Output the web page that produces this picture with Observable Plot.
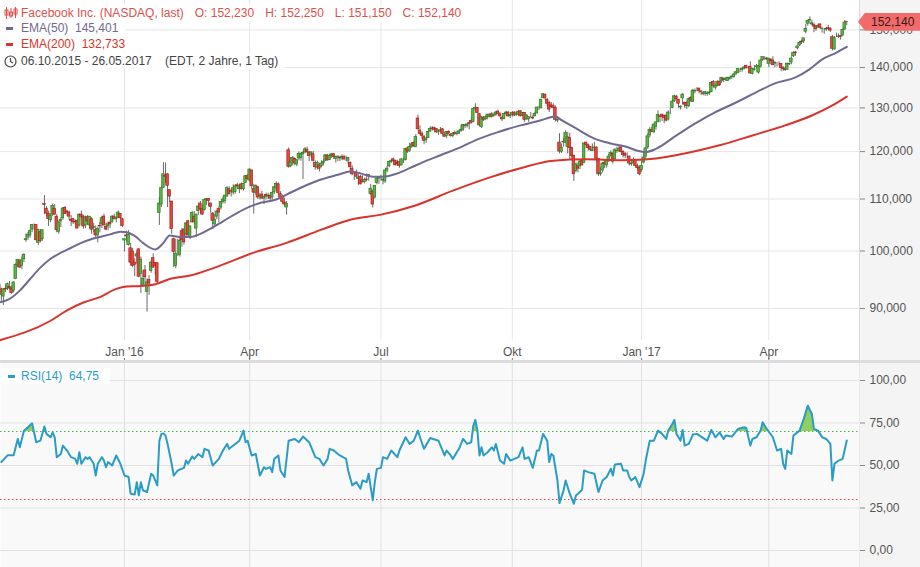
<!DOCTYPE html>
<html><head><meta charset="utf-8">
<script src="https://cdn.jsdelivr.net/npm/d3@7"></script>
<script src="https://cdn.jsdelivr.net/npm/@observablehq/plot@0.6"></script>
<style>
html,body{margin:0;padding:0;background:#fff;}
#wrap{position:relative;width:920px;height:567px;overflow:hidden;font-family:Arial,"Liberation Sans",sans-serif;}
#axisbg{position:absolute;left:859px;top:0;width:61px;height:567px;background:#f4f4f4;border-left:1px solid #d9d9d9;box-sizing:border-box;}
#price,#rsi{position:absolute;left:0;}
#price{top:0;}
#rsi{top:340px;}
#sep{position:absolute;left:0;top:360px;width:920px;height:3px;background:#dcdcdc;}
.row{position:absolute;left:0;height:16px;line-height:16px;font-size:12px;background:rgba(255,255,255,0.9);white-space:nowrap;padding:0 4px 0 4px;}
.row .t{position:relative;left:17px;}
.dash{position:absolute;left:6px;top:7px;width:7px;height:3px;}
.gap{display:inline-block;width:11px;}
#lastbox{position:absolute;left:858px;width:62px;height:18px;line-height:18px;background:#f26b6b;color:#3a1a1a;font-size:12px;clip-path:polygon(0 50%,7px 0,100% 0,100% 100%,7px 100%);box-sizing:border-box;padding-left:13px;}
</style></head>
<body>
<div id="wrap">
  <div id="axisbg"></div>
  <div id="charts"></div>
  <div id="sep"></div>
  <div id="legend"></div>
  <div id="lastbox"></div>
</div>
<script>
// ---------- DATA: daily candles [open, high, low, close] by month ----------
const oct15 = [[94.0,94.5,92.1,92.5],[93.2,93.4,91.2,92.3],[92.0,93.2,90.5,93.2],[93.3,93.9,92.7,93.2],[93.3,94.3,93.0,94.1],[93.6,94.6,93.1,93.4],[93.3,93.8,92.4,92.6],[93.0,94.5,92.6,94.4],[95.0,97.7,94.9,97.5],[97.4,98.5,97.0,98.4],[98.1,98.5,96.9,97.0],[97.3,98.9,96.7,98.3],[98.5,99.5,97.9,99.3],[102.0,103.2,101.6,102.2],[102.5,103.5,102.0,103.0],[102.9,104.0,102.4,103.7],[104.0,105.0,103.4,104.9],[104.9,105.1,103.9,104.9],[104.9,104.9,101.8,102.0]];
const nov15 = [[101.5,104.1,101.0,103.9],[103.5,104.0,101.5,101.8],[102.2,103.9,101.8,103.9],[109.0,110.7,106.9,108.8],[108.0,108.5,106.5,107.1],[107.0,107.6,104.6,106.0],[105.8,107.0,105.3,106.6],[106.9,109.0,106.5,108.6],[108.0,108.9,106.8,106.9],[106.5,106.9,103.4,103.9],[103.6,105.6,103.1,105.4],[105.6,106.3,104.4,105.9],[106.2,108.3,105.8,108.1],[108.2,108.5,106.9,107.0],[107.5,107.8,106.6,107.3],[107.3,107.6,105.8,106.5],[105.9,106.7,104.6,105.7],[106.0,106.2,105.0,105.4],[105.5,105.9,104.9,105.4],[105.7,105.9,104.2,104.2]];
const dec15 = [[104.8,107.0,104.5,106.9],[106.9,107.6,106.1,106.5],[106.5,106.8,104.1,104.6],[104.8,106.6,104.2,106.2],[106.4,106.7,104.8,105.6],[104.8,106.5,104.2,106.5],[106.0,106.3,103.1,104.0],[104.3,105.2,103.4,104.5],[103.9,104.7,102.4,102.9],[102.9,104.4,101.5,104.1],[104.7,105.4,103.4,104.6],[105.0,106.6,104.2,106.2],[106.5,107.0,104.7,104.8],[104.5,105.3,103.8,104.0],[104.6,105.5,103.8,105.0],[105.3,105.7,104.2,105.0],[105.5,106.7,105.2,106.5],[106.5,107.0,105.9,106.0],[106.0,106.5,105.3,106.2],[106.3,107.6,106.2,107.3],[107.0,107.1,106.0,106.2],[106.0,106.2,104.4,104.7]];
const jan16 = [[101.95,102.2,99.8,102.2],[102.9,103.7,101.7,102.7],[101.1,103.8,100.9,103.0],[100.5,101.4,97.3,97.9],[99.9,100.5,97.0,97.3],[97.9,98.6,95.4,97.5],[99.0,100.0,97.6,99.4],[100.3,100.5,95.2,95.4],[95.9,98.9,92.5,98.4],[94.0,96.4,93.5,95.0],[96.5,97.4,93.9,95.3],[92.8,95.0,89.4,94.4],[94.8,95.6,92.2,94.2],[96.4,98.1,96.0,97.9],[98.7,99.5,96.9,97.0],[97.8,97.9,95.6,97.3],[97.8,97.8,94.2,94.5],[107.2,110.3,104.8,109.1],[108.9,112.4,108.3,112.2]];
const feb16 = [[112.3,117.6,112.2,115.1],[114.8,117.5,113.2,114.6],[115.1,115.2,108.3,112.7],[111.8,111.9,109.3,110.5],[109.5,109.5,103.1,104.1],[102.2,102.4,97.0,99.8],[97.3,102.2,96.8,99.5],[101.0,102.2,99.0,101.0],[99.3,102.5,98.9,101.9],[103.7,104.2,100.7,102.0],[104.0,104.2,101.1,101.6],[103.1,105.3,102.7,105.2],[105.6,105.8,102.8,102.9],[102.5,104.7,102.1,104.6],[105.4,107.5,105.2,107.2],[106.5,107.5,105.0,105.5],[104.2,107.0,102.5,106.9],[107.6,108.8,106.8,108.5],[109.1,109.5,107.0,107.9],[108.0,108.8,106.8,106.9]];
const mar16 = [[107.8,109.9,107.6,109.8],[109.8,110.0,108.7,110.0],[110.0,110.1,108.5,109.6],[109.1,109.2,107.2,108.4],[107.1,107.3,104.0,105.7],[105.0,106.9,104.5,105.9],[106.5,107.7,105.9,107.5],[108.0,108.4,105.3,107.3],[108.3,109.5,107.8,109.4],[109.4,110.4,109.0,109.9],[109.6,110.7,109.0,110.7],[110.5,112.5,110.4,112.2],[112.0,112.5,110.8,111.0],[111.6,111.9,110.4,111.5],[111.3,112.9,110.8,112.2],[111.4,112.9,111.0,112.6],[112.8,113.2,112.2,112.6],[112.0,113.0,111.1,112.6],[113.0,113.3,111.8,112.0],[112.0,113.2,111.6,113.1],[113.3,114.8,113.2,114.7],[114.7,115.0,113.9,114.1]];
const apr16 = [[113.8,116.3,113.5,116.1],[115.9,116.0,112.0,112.6],[112.0,113.0,107.0,111.3],[111.3,112.9,110.8,112.7],[112.4,112.6,109.9,110.3],[110.5,111.2,109.8,110.6],[110.9,111.6,109.9,110.1],[110.1,110.6,108.9,110.4],[110.8,111.2,109.8,110.5],[110.5,111.2,109.9,110.7],[110.6,111.0,109.6,110.1],[110.3,111.5,109.8,111.2],[111.4,112.6,110.9,112.4],[112.2,113.5,111.6,113.1],[113.0,113.3,111.0,111.2],[111.0,111.5,109.9,110.2],[110.3,110.8,108.9,109.4],[109.3,110.2,108.4,108.9],[108.3,109.5,106.8,109.0],[120.3,120.8,116.4,116.7],[116.8,118.7,116.5,117.6]];
const may16 = [[117.8,118.9,116.9,118.6],[118.4,118.6,116.9,117.4],[117.2,118.3,116.7,118.1],[118.5,119.9,118.0,119.5],[118.6,119.7,117.9,119.5],[119.4,120.0,114.0,119.7],[119.8,120.9,119.5,120.5],[120.4,121.0,119.6,119.9],[119.8,120.0,117.8,119.0],[119.2,120.0,118.6,119.8],[119.4,120.0,117.7,118.0],[117.5,118.0,116.0,116.6],[116.5,117.9,116.0,117.5],[117.0,117.4,115.6,116.3],[116.8,118.0,116.5,117.4],[117.5,118.2,116.9,117.7],[118.0,119.3,117.8,119.2],[119.1,119.4,117.9,118.1],[118.2,119.4,118.0,119.0],[119.0,119.6,118.5,119.4],[119.4,119.6,118.3,118.8]];
const jun16 = [[118.4,119.0,117.5,118.8],[118.8,119.0,117.8,118.9],[118.6,119.0,117.8,118.5],[118.5,119.3,118.0,118.8],[118.8,119.2,118.0,118.3],[118.4,119.0,117.8,118.4],[118.0,118.6,117.2,118.6],[117.5,117.8,115.5,116.6],[116.3,116.9,114.8,115.1],[114.9,115.6,113.8,114.9],[115.4,116.0,114.3,114.6],[114.1,115.0,112.8,114.4],[114.6,114.9,112.9,113.0],[113.8,114.8,113.3,113.4],[113.5,114.3,113.1,113.9],[114.0,115.2,113.5,113.9],[114.7,115.0,113.7,115.0],[111.0,113.0,110.7,112.1],[111.5,111.8,108.2,108.9],[110.3,112.8,110.0,112.7],[113.3,114.2,112.9,114.2],[114.2,114.3,113.0,114.3]];
const jul16 = [[114.2,114.9,113.7,114.2],[113.8,114.2,112.9,114.0],[113.6,116.0,113.2,115.9],[115.9,116.8,115.4,116.3],[116.8,117.9,116.5,117.7],[117.7,118.2,117.4,117.9],[118.3,118.6,117.6,117.9],[118.0,118.1,116.9,117.0],[117.6,118.1,116.8,117.3],[117.7,117.8,116.4,116.9],[117.0,118.4,116.9,118.3],[118.0,118.5,117.4,118.0],[118.1,120.6,118.0,120.6],[120.7,121.0,119.6,120.0],[120.2,121.9,119.8,121.0],[121.0,122.0,120.7,121.6],[121.9,122.2,120.9,121.2],[121.0,123.8,120.8,123.3],[127.5,128.3,124.8,125.0],[124.7,125.8,123.7,123.9]];
const aug16 = [[124.0,124.4,122.8,123.5],[123.2,123.6,121.5,122.4],[122.5,123.0,121.8,122.9],[123.0,124.5,122.9,124.4],[124.5,125.6,124.3,125.1],[125.2,125.6,124.6,125.1],[125.3,125.5,124.6,124.9],[125.1,125.2,124.1,124.3],[124.3,124.8,123.6,124.7],[124.7,125.4,124.2,124.8],[125.0,125.2,123.8,123.9],[123.7,124.2,123.2,123.3],[123.5,124.4,122.9,124.4],[124.4,124.7,123.9,124.0],[123.7,124.0,123.2,123.5],[123.5,124.1,123.1,124.0],[124.2,124.6,123.6,123.9],[123.9,124.6,123.5,124.0],[124.0,124.7,123.8,124.5],[124.6,125.9,124.3,124.9],[124.9,126.0,124.5,126.0],[125.9,126.2,125.2,125.8],[125.8,126.3,125.3,126.1]];
const sep16 = [[126.4,126.6,124.9,126.2],[126.9,127.4,126.2,126.5],[126.7,129.9,126.5,129.7],[129.8,131.0,129.3,130.0],[130.0,130.1,128.6,128.8],[128.5,128.7,125.6,125.9],[125.5,128.0,125.2,127.8],[127.6,128.0,126.8,127.2],[127.3,128.1,127.0,127.8],[127.9,128.5,127.2,128.4],[127.9,128.6,127.6,128.4],[128.5,128.9,127.6,127.9],[128.1,128.6,127.8,128.3],[128.4,129.2,128.0,128.9],[129.1,129.5,128.4,128.6],[128.5,128.9,127.8,128.0],[127.6,128.0,126.8,127.3],[127.4,128.7,127.2,128.6],[128.6,129.2,128.2,128.9],[128.9,129.1,127.8,128.0],[128.1,128.5,127.5,128.3]];
const oct16 = [[128.4,129.1,127.8,128.8],[128.9,129.1,127.9,128.2],[128.4,129.0,128.0,128.5],[128.4,129.4,128.2,129.1],[129.2,129.3,127.9,128.0],[128.2,128.9,128.0,128.8],[128.8,128.9,126.6,127.2],[127.3,128.4,127.1,128.2],[127.3,128.0,126.6,127.8],[127.9,128.9,127.6,127.9],[127.7,128.1,127.2,127.5],[128.0,129.0,127.9,128.6],[128.7,130.1,128.6,130.1],[130.0,130.4,129.4,130.0],[129.9,132.0,129.9,132.0],[132.4,133.5,132.2,133.3],[133.1,133.4,131.9,132.3],[131.9,132.3,130.2,131.0],[131.2,131.6,128.9,129.6],[130.6,131.3,129.9,130.2],[130.4,131.0,129.8,130.0]];
const nov16 = [[130.0,130.5,126.7,127.2],[127.0,128.0,126.5,127.2],[122.0,124.0,119.5,120.0],[120.0,121.7,119.6,120.8],[122.0,122.9,121.0,122.2],[122.0,124.7,121.8,124.2],[121.0,124.3,119.5,123.2],[123.0,124.1,118.3,120.8],[120.8,121.0,118.0,119.0],[119.1,119.2,113.6,115.1],[115.8,117.5,115.4,117.2],[116.8,117.5,115.4,116.3],[116.8,118.3,116.1,117.8],[118.0,118.2,116.9,117.0],[117.5,121.8,117.4,121.8],[122.0,122.0,120.7,121.5],[121.4,121.7,120.1,120.8],[121.0,121.0,120.0,120.4],[120.1,121.7,120.0,120.4],[120.7,122.1,120.0,120.9],[120.9,121.0,117.8,118.4]];
const dec16 = [[118.4,118.5,114.7,115.1],[115.1,116.5,114.7,115.4],[115.9,117.6,115.4,117.4],[117.6,118.0,116.3,117.3],[117.0,118.2,116.4,118.0],[118.1,119.4,117.6,118.9],[119.1,120.2,118.9,119.7],[119.5,119.8,117.3,117.8],[118.3,120.7,118.2,120.3],[120.1,121.0,119.6,120.2],[120.1,121.2,119.8,120.6],[120.9,121.4,119.7,119.9],[119.9,120.2,118.6,119.2],[119.5,119.8,118.5,119.1],[119.0,119.7,118.5,119.0],[118.9,119.0,116.9,117.4],[117.2,117.6,116.8,117.3],[117.5,118.6,117.3,118.0],[118.2,118.3,116.7,116.9],[116.8,117.3,116.0,116.4],[116.5,116.8,114.8,115.1]];
const jan17 = [[116.0,117.8,115.5,116.9],[117.6,119.7,117.3,118.7],[118.9,120.9,118.3,120.7],[120.9,123.9,120.5,123.4],[123.6,125.4,123.0,124.9],[124.8,125.5,124.3,124.4],[124.3,126.1,124.1,126.1],[125.6,126.7,124.8,126.6],[126.7,129.3,126.5,128.3],[128.0,128.3,126.5,127.9],[128.4,128.4,126.8,127.9],[128.2,128.2,126.3,127.6],[128.1,128.5,126.7,127.0],[127.3,129.3,126.9,128.9],[129.4,129.9,128.4,129.4],[130.0,131.7,129.8,131.5],[131.6,133.1,131.3,132.8],[132.7,133.0,131.9,132.2],[132.0,132.0,129.9,131.0],[130.1,130.5,129.5,130.3]];
const feb17 = [[132.3,133.5,130.7,133.2],[131.2,131.4,129.9,130.8],[131.2,131.5,129.6,130.4],[130.4,132.2,130.1,132.1],[132.4,132.7,131.3,131.8],[131.4,134.5,131.3,134.2],[134.0,134.6,133.4,134.1],[134.2,134.9,133.9,134.2],[134.7,134.7,133.4,134.1],[134.0,134.1,133.0,133.9],[133.5,134.0,132.9,133.4],[133.3,134.0,132.8,133.8],[133.4,133.9,132.8,133.5],[133.5,133.9,133.0,133.7],[133.8,136.3,133.7,136.1],[136.3,136.7,134.9,135.4],[134.9,135.6,134.3,135.4],[135.3,136.6,135.1,136.4],[136.4,136.5,135.2,135.5]];
const mar17 = [[136.5,137.5,136.0,137.4],[137.1,137.3,136.2,136.8],[136.8,137.3,136.5,137.2],[136.6,137.5,136.4,137.4],[137.1,137.5,136.8,137.3],[137.5,137.8,137.0,137.7],[137.6,138.5,137.3,138.2],[138.4,138.8,137.9,138.8],[138.6,139.6,138.4,139.6],[139.3,139.6,138.7,139.3],[139.4,139.9,138.8,139.7],[139.7,140.3,139.4,140.0],[140.4,140.6,139.6,139.8],[139.9,140.2,139.5,139.9],[140.2,141.5,138.3,138.5],[138.4,139.8,138.1,139.6],[139.4,140.5,139.1,139.5],[140.1,140.8,139.6,140.3],[138.7,140.5,138.3,140.3],[140.2,141.9,139.9,141.8],[141.9,142.7,141.6,142.7],[142.4,142.8,141.9,142.4],[142.3,142.6,141.8,142.1]];
const apr17 = [[140.9,142.3,140.0,142.3],[142.0,142.3,140.8,141.7],[141.8,142.8,140.6,140.6],[141.0,141.5,140.0,141.2],[140.8,141.3,140.1,140.8],[141.0,141.5,140.4,141.0],[140.9,141.0,138.9,139.9],[140.0,140.1,139.0,139.6],[139.6,140.0,139.0,139.4],[139.4,141.0,139.4,141.0],[140.8,141.1,140.5,140.9],[141.3,142.8,140.7,142.3],[142.9,144.1,142.6,143.8],[143.9,144.2,142.9,143.7],[145.0,145.7,144.6,145.5],[145.8,146.8,145.5,146.5],[146.8,147.2,146.0,146.6],[146.9,147.7,146.3,147.7],[149.5,151.5,148.9,150.3]];
const may17 = [[151.7,152.6,151.0,152.5],[152.6,153.6,151.6,152.8],[151.5,152.7,151.2,151.8],[151.3,151.9,149.2,150.9],[151.0,151.1,149.6,150.2],[150.7,151.6,150.4,151.1],[151.5,151.6,150.2,150.5],[150.2,150.7,149.1,150.3],[150.0,150.3,148.8,150.0],[150.1,150.6,149.5,150.3],[150.5,151.2,150.0,150.2],[150.2,150.6,149.3,149.8],[148.0,148.5,144.3,144.9],[144.7,148.2,144.5,147.7],[148.1,149.1,147.9,148.1],[148.1,148.9,147.7,148.2],[148.3,148.4,147.2,148.1],[148.5,150.2,148.1,150.0],[150.1,152.6,149.8,152.0],[152.23,152.25,151.15,152.14]];

const monthList = [oct15,nov15,dec15,jan16,feb16,mar16,apr16,may16,jun16,jul16,aug16,sep16,oct16,nov16,dec16,jan17,feb17,mar17,apr17,may17];
// x-axis ticks: month (position in monthList) and label
const tickMonths = [3, 6, 9, 12, 15, 18];
const tickLabels = ["Jan '16", "Apr", "Jul", "Okt", "Jan '17", "Apr"];

// EMA lines (trading-day index, value)
const ema50Idx = [0,5,10,15,20,25,30,35,40,44,49,54,59,62,66,70,76,80,83,88,93,98,103,109,119,127,135,140,148,156,165,171,176,182,187,194,200,206,215,225,234,244,254,264,271,274,280,290,298,306,311,315,320,330,339,349,359,369,378,388,395,401,408,413];
const ema50Val = [91.0,91.6,93.0,95.0,97.0,98.6,99.7,100.6,101.5,102.1,102.6,103.1,103.6,103.5,102.8,101.5,100.3,101.5,102.9,102.6,102.6,103.2,104.2,105.6,107.9,109.2,109.9,110.9,112.5,113.9,115.0,115.7,115.3,114.6,114.6,115.3,116.4,117.6,119.2,121.0,122.9,124.5,125.9,127.1,128.0,127.1,125.5,122.9,121.8,121.0,120.2,119.9,120.6,123.6,126.3,129.0,131.3,133.8,136.0,137.5,139.6,142.1,143.9,145.401];
const ema200Idx = [0,25,33,41,49,57,62,69,76,83,93,105,124,140,157,171,186,202,221,238,254,270,286,303,312,320,334,351,367,383,396,406,413];
const ema200Val = [84.9,88.0,89.7,91.0,91.9,93.3,93.7,93.8,94.1,95.0,95.6,97.0,99.7,101.5,104.0,105.9,106.9,108.6,111.7,114.3,116.4,118.0,118.3,118.1,118.2,118.5,119.6,121.4,123.6,125.9,128.2,130.6,132.733];

// RSI(14)
const rsiIdx = [1,4,7,9,10,12,14,16,18,20,22,23,25,26,27,28,30,31,33,35,37,38,39,40,42,43,44,46,47,48,50,51,52,53,55,57,59,61,63,64,66,67,68,69,70,72,74,75,77,78,79,80,81,82,84,85,87,90,91,92,94,95,97,99,100,102,104,107,109,111,112,115,117,119,120,121,123,125,127,129,130,132,133,134,136,137,139,141,144,146,148,151,154,156,158,160,161,163,165,166,169,170,172,174,176,177,179,180,181,182,183,184,186,187,189,191,194,195,198,200,202,204,205,207,210,214,217,218,220,221,224,226,228,230,231,232,233,234,235,236,238,240,241,242,244,246,247,249,251,253,255,256,258,260,262,263,265,267,268,269,270,272,273,275,276,278,280,281,282,284,285,287,290,292,294,296,298,299,300,303,304,306,307,308,310,312,314,315,317,319,321,323,325,326,328,329,330,332,333,334,336,338,340,342,345,347,349,351,353,354,357,360,363,364,366,367,369,371,372,374,377,379,381,382,383,384,386,387,390,392,394,396,397,399,401,403,405,406,407,409,411,413];
const rsiVal = [52,56,56,65.6,60.7,70.5,72.5,74.8,63.7,64.6,72.9,68.6,66.6,69.5,66.6,54.9,56.8,61.7,58.8,54.9,53.9,51,57.8,51,54.9,53.9,54.9,51,44.1,51,54.9,52.9,49,52,50,55.9,51,44.1,43.2,33.4,33,40.2,32.4,40.2,35.4,34.4,45.1,44.1,38.3,64.6,68.6,68.9,67.6,62.7,51,44.1,47.1,48.6,52.9,51,55.3,53.9,56.8,54.9,59.8,58.8,50,53.9,58.8,62.7,59.8,62.7,64.6,70.5,63.7,64.6,55.9,56.8,44.1,49,48,49,46.1,53.9,55.9,47.1,43.2,64.6,65.6,63.7,67,63.7,54.9,53.9,50,53.9,59.8,58.8,56.8,55.9,53.9,47.1,38.3,40.2,36.3,41.2,40.2,45.1,37.3,29.5,40.2,48,48.6,54.9,53.9,58.8,54.9,58.8,66.6,62.7,64.6,70.5,66.6,59.8,66.2,64.6,55.9,58.8,55.9,53.9,59.8,65.6,62.7,63.7,73.4,76.8,70.5,55.9,60.7,55.9,57.8,60.7,58.8,62.7,52.9,51,56.8,52.9,53.9,54.9,60.7,53.9,54.9,48.6,58.8,58.8,68.6,64.6,52,56.8,55.9,41.2,27.9,35.4,41.2,33.4,27.5,32.4,33.4,35.7,47.1,46.1,45.1,34.4,41.2,43.2,48,44.1,50.6,51,47.1,47.1,43.2,41.2,43.2,37.3,45.1,52.9,64.6,64.6,70.5,68.6,65.6,70.5,74.4,76.8,68.6,64.6,70.9,61.7,62.7,68.2,68.6,67,64.6,70.9,66.6,69.5,65.6,67.6,67,71.5,72.5,72.1,61.7,65.6,66.6,70.5,75.4,71.5,66.6,58.8,59.8,51,48,58.8,56.8,67.6,70.5,77.3,85.2,80.3,71.5,70.5,66.6,65.6,62.7,41.2,51,52.9,53.9,64.75];

const priceTicks = [90,100,110,120,130,140,150];
const rsiTicks = [0,25,50,75,100];
const rsiUpper = 70, rsiLower = 30;
const titleText = "Facebook Inc. (NASDAQ, last)";
const rangeText = "06.10.2015 - 26.05.2017";
const rangeInfo = "(EDT, 2 Jahre, 1 Tag)";

// ---------- build tables ----------
const candles = monthList.flat().map(([o,h,l,c], i) => ({i, o, h, l, c, up: c >= o}));
const starts = []; { let s = 0; for (const m of monthList) { starts.push(s); s += m.length; } }
const tickIdx = tickMonths.map(m => starts[m]);
const tickLabelOf = new Map(tickIdx.map((t, k) => [t, tickLabels[k]]));
const ema50 = ema50Idx.map((i, k) => ({i, v: ema50Val[k]}));
const ema200 = ema200Idx.map((i, k) => ({i, v: ema200Val[k]}));
const rsi = rsiIdx.map((i, k) => ({i, v: rsiVal[k]}));
// overbought fill geometry (split at the 70 line)
const ob = []; let g = 0;
for (let k = 0; k < rsi.length; k++) {
  const a = rsi[k], b = rsi[k + 1];
  if (a.v >= rsiUpper) ob.push({i: a.i, v: a.v, g});
  if (b && (a.v - rsiUpper) * (b.v - rsiUpper) < 0) {
    const t = (rsiUpper - a.v) / (b.v - a.v);
    ob.push({i: a.i + t * (b.i - a.i), v: rsiUpper, g});
    if (a.v >= rsiUpper) g++;
  }
}

const fmt = (v, d) => v.toFixed(d).replace(".", ",");
const FONT = "Arial, 'Liberation Sans', sans-serif";
const W = 920, MR = 61;
const xDomain = [0.585, 419.2];
const GREEN = "#5cb545", GREEN_D = "#2f7a22", RED = "#e8473e", RED_D = "#a3231c";

const price = Plot.plot({
  width: W, height: 340,
  marginLeft: 0, marginRight: MR, marginTop: 0, marginBottom: 0,
  style: {background: "transparent", fontFamily: FONT, fontSize: "12px", overflow: "visible"},
  x: {domain: xDomain, axis: null},
  y: {type: "log", domain: [84.87, 158.3]},
  marks: [
    Plot.ruleY(priceTicks, {stroke: "#e6e6e6", strokeWidth: 1}),
    Plot.ruleX(tickIdx, {stroke: "#e6e6e6", strokeWidth: 1}),
    Plot.ruleX(candles, {x: "i", y1: "l", y2: "h", stroke: "#6a6a6a", strokeWidth: 1}),
    Plot.rect(candles, {x1: d => d.i - 0.62, x2: d => d.i + 0.62, y1: "o", y2: "c",
      fill: d => d.up ? GREEN : RED, stroke: d => d.up ? GREEN_D : RED_D, strokeWidth: 0.7}),
    Plot.line(ema200, {x: "i", y: "v", stroke: "#d8342b", strokeWidth: 2, curve: "monotone-x"}),
    Plot.line(ema50, {x: "i", y: "v", stroke: "#6f6a90", strokeWidth: 2, curve: "monotone-x"}),
    Plot.axisY(priceTicks, {anchor: "right", label: null, tickSize: 5, tickPadding: 5, stroke: "#888",
      fill: "#555", fontSize: 12, tickFormat: d => fmt(d, 3)})
  ]
});
price.id = "price";

const rsiChart = Plot.plot({
  width: W, height: 227,
  marginLeft: 0, marginRight: MR, marginTop: 21, marginBottom: 0,
  style: {background: "transparent", fontFamily: FONT, fontSize: "12px", overflow: "visible"},
  x: {domain: xDomain},
  y: {domain: [-10, -10 + 206 / 1.7]},
  marks: [
    Plot.frame({fill: "#f9f9f9", stroke: null}),
    Plot.ruleY(rsiTicks, {stroke: "#e2e2e2"}),
    Plot.ruleX(tickIdx, {stroke: "#e2e2e2"}),
    Plot.ruleY([rsiUpper], {stroke: "#3fbf3f", strokeWidth: 1, strokeDasharray: "1.5,2.5"}),
    Plot.ruleY([rsiLower], {stroke: "#ff3b3b", strokeWidth: 1, strokeDasharray: "1.5,2.5"}),
    Plot.areaY(ob, {x: "i", y1: rsiUpper, y2: "v", z: "g", fill: "#8fcf5f"}),
    Plot.line(rsi, {x: "i", y: "v", stroke: "#2a9cc6", strokeWidth: 2}),
    Plot.axisY(rsiTicks, {anchor: "right", label: null, tickSize: 5, tickPadding: 5, stroke: "#888",
      fill: "#555", fontSize: 12, tickFormat: d => fmt(d, 2)}),
    Plot.axisX(tickIdx, {anchor: "top", label: null, tickSize: 4, tickPadding: 2, stroke: "#777",
      fill: "#555", fontSize: 12, tickFormat: d => tickLabelOf.get(d)})
  ]
});
rsiChart.id = "rsi";

const charts = document.getElementById("charts");
charts.appendChild(price);
charts.appendChild(rsiChart);

// ---------- legends ----------
const last = candles[candles.length - 1];
const lg = document.getElementById("legend");
const candleIcon = `<svg width="14" height="12" style="position:absolute;left:4px;top:2px" viewBox="0 0 14 12">
<g stroke="#e0504c" fill="none" stroke-width="1"><line x1="2.5" y1="0" x2="2.5" y2="12"/><rect x="1" y="3" width="3" height="5"/>
<line x1="7" y1="1" x2="7" y2="11"/><rect x="5.5" y="5" width="3" height="4"/><line x1="11.5" y1="0" x2="11.5" y2="11"/><rect x="10" y="2" width="3" height="5"/></g></svg>`;
const clockIcon = `<svg width="13" height="13" style="position:absolute;left:4px;top:2px" viewBox="0 0 13 13">
<circle cx="6.5" cy="6.5" r="5.5" stroke="#444" fill="none" stroke-width="1.2"/><path d="M6.5 3 V6.5 L9 8" stroke="#444" fill="none" stroke-width="1.2"/></svg>`;
lg.innerHTML = `
<div class="row" style="top:5px;color:#e0504c">${candleIcon}<span class="t">${titleText}<span class="gap"></span>O: ${fmt(last.o,3)}<span class="gap"></span>H: ${fmt(last.h,3)}<span class="gap"></span>L: ${fmt(last.l,3)}<span class="gap"></span>C: ${fmt(last.c,3)}</span><span style="display:inline-block;width:20px"></span></div>
<div class="row" style="top:20px;color:#6f6a90"><div class="dash" style="background:#6f6a90"></div><span class="t">EMA(50)&nbsp;&nbsp;${fmt(ema50Val[ema50Val.length-1],3)}</span><span style="display:inline-block;width:20px"></span></div>
<div class="row" style="top:36px;color:#d8342b"><div class="dash" style="background:#d8342b"></div><span class="t">EMA(200)&nbsp;&nbsp;${fmt(ema200Val[ema200Val.length-1],3)}</span><span style="display:inline-block;width:20px"></span></div>
<div class="row" style="top:53px;color:#444">${clockIcon}<span class="t">${rangeText}&nbsp;&nbsp;&nbsp;&nbsp;${rangeInfo}</span><span style="display:inline-block;width:20px"></span></div>
<div class="row" style="top:368px;color:#2a9cc6;padding-right:8px"><div class="dash" style="background:#2a9cc6;left:8px;width:7px"></div><span class="t" style="left:17px">RSI(14)&nbsp;&nbsp;${fmt(rsiVal[rsiVal.length-1],2)}</span><span style="display:inline-block;width:20px"></span></div>`;

// last price box, positioned through the price scale
const lb = document.getElementById("lastbox");
lb.textContent = fmt(last.c, 3);
lb.style.top = (price.scale("y").apply(last.c) - 9) + "px";
</script>
</body></html>
